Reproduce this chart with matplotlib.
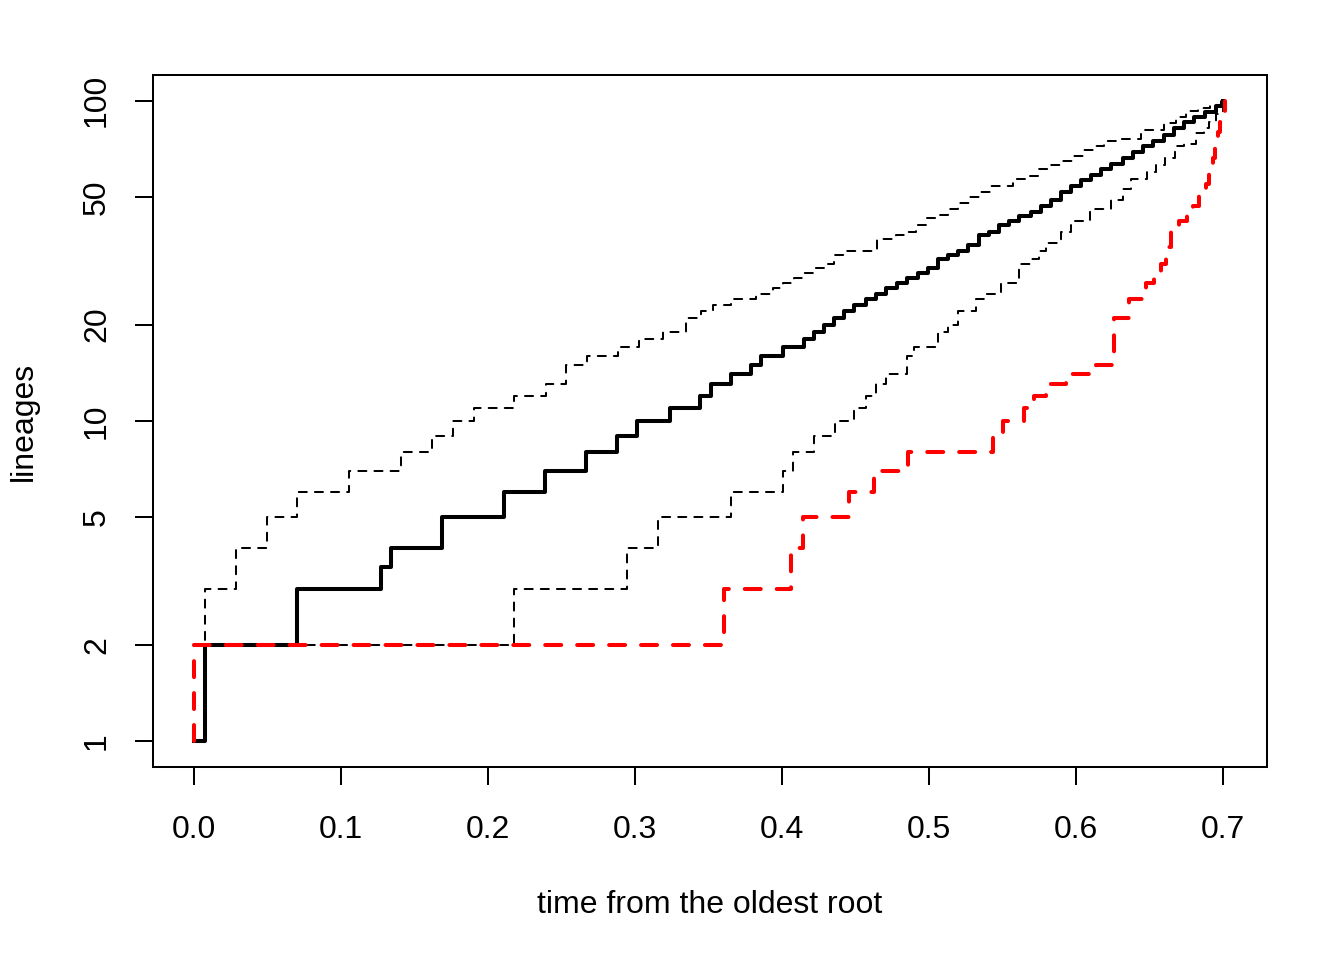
import matplotlib
matplotlib.use('Agg')
import matplotlib.pyplot as plt
from matplotlib.ticker import NullLocator

plt.rcParams['font.family'] = ['Liberation Sans', 'DejaVu Sans']
plt.rcParams['lines.scale_dashes'] = False

# median of the simulated LTTs (time of each step, lineages after it)
med_t = [0.0, 0.0075, 0.0699, 0.1267, 0.1335, 0.1687, 0.2106, 0.2387, 0.2667,
         0.2878, 0.3014, 0.3234, 0.3441, 0.3514, 0.3654, 0.3786, 0.3854, 0.4002,
         0.4145, 0.4217, 0.4285, 0.4353, 0.4421, 0.4489, 0.4569, 0.4637, 0.4705,
         0.4780, 0.4848, 0.4921, 0.4989, 0.5061, 0.5129, 0.5197, 0.5266, 0.5340,
         0.5409, 0.5477, 0.5545, 0.5613, 0.5692, 0.5761, 0.5829, 0.5897, 0.5965,
         0.6033, 0.6101, 0.6169, 0.6237, 0.6317, 0.6385, 0.6453, 0.6521, 0.6600,
         0.6668, 0.6736, 0.6804, 0.6879, 0.6952, 0.7000]
med_n = [1, 2, 3, 3.5, 4, 5, 6, 7, 8, 9, 10, 11, 12, 13, 14, 15, 16, 17, 18,
         19, 20, 21, 22, 23, 24, 25, 26, 27, 28, 29, 30, 32, 33, 34, 35.5, 38,
         39, 41, 42, 43.5, 45, 47, 49, 52, 54, 56.5, 58.5, 61, 63.5, 66, 69,
         72, 75, 78, 82, 86, 89, 92, 96, 100]

# upper 95% limit
up_t = [0.0, 0.0075, 0.0286, 0.0495, 0.0699, 0.1055, 0.1407, 0.1614, 0.1759,
        0.1902, 0.2174, 0.2390, 0.2531, 0.2669, 0.2880, 0.3023, 0.3187, 0.3343,
        0.3445, 0.3527, 0.3654, 0.3820, 0.3934, 0.4002, 0.4077, 0.4145, 0.4217,
        0.4285, 0.4353, 0.4421, 0.4644, 0.4773, 0.4828, 0.4909, 0.4978, 0.5057,
        0.5125, 0.5193, 0.5272, 0.5340, 0.5420, 0.5568, 0.5658, 0.5738, 0.5824,
        0.5897, 0.5972, 0.6045, 0.6113, 0.6192, 0.6283, 0.6442, 0.6600, 0.6680,
        0.6748, 0.6828, 0.6907, 0.6986]
up_n = [2, 3, 4, 5, 6, 7, 8, 9, 10, 11, 12, 13, 15, 16, 17, 18, 19, 21, 22,
        23, 24, 25, 26, 27, 28, 29, 30, 31, 33, 34, 37, 38, 39, 41, 43, 44,
        46, 48, 50, 52, 54, 57, 58, 61, 63, 65, 67, 70, 72, 75, 76, 81, 85,
        89, 93, 95, 97, 100]

# lower 95% limit
lo_t = [0.0, 0.2174, 0.2942, 0.3157, 0.3654, 0.4002, 0.4070, 0.4217, 0.4358,
        0.4489, 0.4569, 0.4637, 0.4705, 0.4848, 0.4896, 0.5061, 0.5127, 0.5193,
        0.5318, 0.5386, 0.5488, 0.5611, 0.5692, 0.5747, 0.5795, 0.5897, 0.5965,
        0.6094, 0.6237, 0.6317, 0.6373, 0.6482, 0.6544, 0.6605, 0.6673, 0.6734,
        0.6816, 0.6871, 0.6905, 0.6952, 0.7000]
lo_n = [2, 3, 4, 5, 6, 7, 8, 9, 10, 11, 12, 13, 14, 16, 17, 19, 20, 22, 24,
        25, 27, 31, 32, 34, 36, 39, 42, 46, 49, 53, 57, 60, 63, 66, 72, 73,
        79, 82, 86, 91, 100]

# observed tree
obs_t = [0.0, 0.0, 0.3604, 0.4058, 0.4138, 0.4453, 0.4621, 0.4853, 0.5432,
         0.5500, 0.5647, 0.5713, 0.5795, 0.5931, 0.6135, 0.6260, 0.6360, 0.6476,
         0.6530, 0.6578, 0.6612, 0.6646, 0.6700, 0.6755, 0.6796, 0.6836, 0.6884,
         0.6905, 0.6932, 0.6945, 0.6966, 0.6979, 0.7015]
obs_n = [1, 2, 3, 4, 5, 6, 7, 8, 9, 10, 11, 12, 13, 14, 15, 21, 24, 27, 28,
         31, 35, 40, 42, 44, 47, 51, 55, 60, 66, 72, 80, 86, 100]

y_ticks = [1, 2, 5, 10, 20, 50, 100]
x_ticks = [0.0, 0.1, 0.2, 0.3, 0.4, 0.5, 0.6, 0.7]

fig = plt.figure(figsize=(13.44, 9.6), dpi=100)
ax = fig.add_axes([153/1344, 1-767/960, (1267-153)/1344, (767-75)/960])

ax.step(med_t, med_n, where='post', color='black', lw=2.9)
for tt, nn in [(up_t, up_n), (lo_t, lo_n)]:
    ax.step(tt, nn, where='post', color='black', lw=1.45,
            linestyle=(0, (5.8, 5.8)), dash_capstyle='round')
ax.step(obs_t, obs_n, where='post', color='red', lw=2.9,
        linestyle=(0, (11.5, 11.5)), dash_capstyle='round')

ax.set_yscale('log')
ax.set_xlim(-0.0281, 0.7298)
ax.set_ylim(10**-0.08, 10**2.08)
ax.set_yticks(y_ticks)
ax.set_yticklabels([str(v) for v in y_ticks])
ax.yaxis.set_minor_locator(NullLocator())
ax.set_xticks(x_ticks)
ax.set_xticklabels(['%.1f' % v for v in x_ticks])

for s in ax.spines.values():
    s.set_linewidth(1.45)
ax.tick_params(axis='both', length=13, width=1.45, labelsize=23)
ax.tick_params(axis='x', pad=21.6)
ax.tick_params(axis='y', pad=16.6, labelrotation=90)
for lab in ax.get_yticklabels():
    lab.set_va('center')

fig.text(710/1344, 1-913/960, 'time from the oldest root', fontsize=23,
         ha='center', va='baseline')
fig.text(32/1344, 1-421/960, 'lineages', fontsize=23, rotation=90,
         rotation_mode='anchor', ha='center', va='baseline')

fig.savefig('out.png', dpi=100)
